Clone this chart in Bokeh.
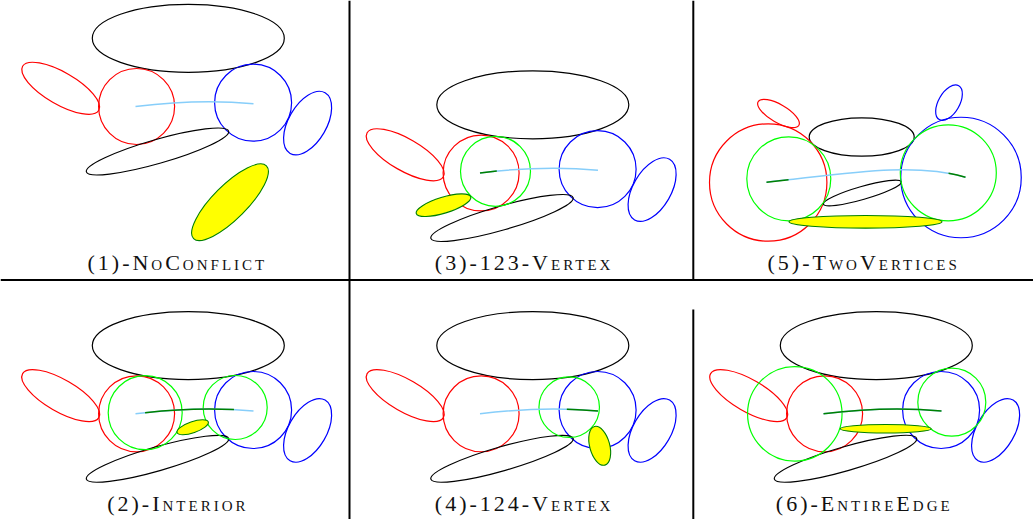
import numpy as np
from bokeh.plotting import figure
from bokeh.models import Range1d
from bokeh.embed import file_html
from bokeh.resources import INLINE
from bokeh.core.properties import value

# ---------------- data (image pixel coordinates: x to the right, y downwards) -------------
labels = ["(1)-NoConflict", "(2)-Interior", "(3)-123-Vertex",
          "(4)-124-Vertex", "(5)-TwoVertices", "(6)-EntireEdge"]
label_left = [87.0, 106.7, 434.3, 434.3, 767.0, 775.3]
label_base = [262.0, 503.0, 262.0, 503.0, 262.3, 503.0]

# shared base layout (given in panel (1) coordinates)
base_cx = [187.8, 60.2, 136.1, 252.6, 307.1, 157.0]
base_cy = [37.8, 87.8, 106.0, 102.2, 122.6, 151.0]
base_w = [192.0, 88.0, 76.0, 77.0, 70.0, 148.0]
base_h = [68.0, 32.0, 76.0, 77.0, 38.0, 24.0]
base_angle = [0, -30, 0, 0, 60, 16]
base_color = ["black", "red", "red", "blue", "blue", "black"]

# panels that reuse the base layout and their offsets
shared_panels = [1, 2, 3, 4, 6]
offset_x = [0.0, 0.0, 344.5, 344.5, 688.0]
offset_y = [0.0, 307.3, 66.5, 307.3, 307.3]

# panel (5) has its own, zoomed layout
p5_cx = [861.2, 778.0, 767.7, 960.5, 948.5, 861.8]
p5_cy = [136.5, 113.0, 182.0, 177.0, 102.2, 192.5]
p5_w = [105.0, 47.0, 117.4, 120.5, 39.0, 81.0]
p5_h = [38.4, 18.0, 117.4, 120.5, 21.0, 13.0]
p5_angle = [0, -30, 0, 0, 60, 16]
p5_color = ["black", "red", "red", "blue", "blue", "black"]

# green circles
green_cx = [144.7, 234.7, 495.0, 568.7, 788.3, 947.8, 794.3, 951.3]
green_cy = [412.2, 407.0, 170.8, 406.7, 178.3, 172.3, 413.3, 401.7]
green_d = [74.0, 64.0, 70.0, 60.5, 84.0, 96.0, 94.5, 68.0]

# yellow ellipses
yellow_cx = [229.5, 192.2, 443.0, 599.2, 865.0, 885.2]
yellow_cy = [201.7, 426.7, 204.7, 445.3, 221.3, 428.3]
yellow_w = [103.0, 33.0, 57.0, 40.0, 153.0, 91.0]
yellow_h = [34.0, 11.0, 16.0, 20.0, 12.7, 8.5]
yellow_angle = [45, 19, 17, -75, 0, 0]

# centre curves (cubic Bezier control points)
base_curve_x = [135.0, 175.0, 215.0, 253.0]
base_curve_y = [106.0, 101.0, 99.5, 103.3]
p5_curve_x = [766.0, 840.0, 910.0, 965.0]
p5_curve_y = [181.7, 174.0, 161.0, 176.7]

# green parts of the curves: panel, start and end parameter
seg_panel = [2, 3, 4, 5, 5, 6]
seg_t0 = [0.08, 0.0, 0.73, 0.0, 0.90, 0.0]
seg_t1 = [0.83, 0.14, 1.0, 0.10, 1.0, 1.0]

# frame lines between panels
div_x0 = [0.0, 349.0, 692.8, 692.8]
div_y0 = [279.5, 0.0, 0.0, 309.0]
div_x1 = [1033.0, 349.0, 692.8, 692.8]
div_y1 = [279.5, 519.0, 279.5, 519.0]

# ---------------- helpers -------------
def Y(v):
    return [-float(t) for t in v]

def blossom(P, u, v, w):
    q = [(1 - u) * P[i] + u * P[i + 1] for i in range(3)]
    r = [(1 - v) * q[i] + v * q[i + 1] for i in range(2)]
    return (1 - w) * r[0] + w * r[1]

def sub_bezier(P, t0, t1):
    return [blossom(P, t0, t0, t0), blossom(P, t0, t0, t1),
            blossom(P, t0, t1, t1), blossom(P, t1, t1, t1)]

# ---------------- figure -------------
p = figure(width=1033, height=519, x_range=Range1d(0, 1033), y_range=Range1d(-519, 0),
           toolbar_location=None, output_backend="svg", min_border=0)
p.xaxis.visible = False
p.yaxis.visible = False
p.grid.visible = False
p.outline_line_color = None
p.background_fill_color = "white"
p.styles = {"font-variant": "small-caps", "letter-spacing": "3px"}

# dividers
p.segment(div_x0, Y(div_y0), div_x1, Y(div_y1), line_color="black", line_width=2)

# base ellipses
ex, ey, ew, eh, ea, ec = [], [], [], [], [], []
for k, pan in enumerate(shared_panels):
    for i in range(len(base_cx)):
        ex.append(base_cx[i] + offset_x[k]); ey.append(base_cy[i] + offset_y[k])
        ew.append(base_w[i]); eh.append(base_h[i]); ea.append(base_angle[i]); ec.append(base_color[i])
ex += p5_cx; ey += p5_cy; ew += p5_w; eh += p5_h; ea += p5_angle; ec += p5_color
p.ellipse(x=ex, y=Y(ey), width=ew, height=eh, angle=ea, angle_units="deg",
          fill_color=None, line_color=ec, line_width=1.2)

# green circles
p.ellipse(x=green_cx, y=Y(green_cy), width=green_d, height=green_d,
          fill_color=None, line_color="#00ff00", line_width=1.2)

# yellow ellipses
p.ellipse(x=yellow_cx, y=Y(yellow_cy), width=yellow_w, height=yellow_h, angle=yellow_angle,
          angle_units="deg", fill_color="#ffff00", line_color="#008000", line_width=1.1)

# light blue curves
curves = {}
for k, pan in enumerate(shared_panels):
    curves[pan] = ([x + offset_x[k] for x in base_curve_x], [y + offset_y[k] for y in base_curve_y])
curves[5] = (p5_curve_x, p5_curve_y)
bx = [curves[k] for k in sorted(curves)]
p.bezier(x0=[c[0][0] for c in bx], y0=Y([c[1][0] for c in bx]),
         x1=[c[0][3] for c in bx], y1=Y([c[1][3] for c in bx]),
         cx0=[c[0][1] for c in bx], cy0=Y([c[1][1] for c in bx]),
         cx1=[c[0][2] for c in bx], cy1=Y([c[1][2] for c in bx]),
         line_color="#87cefa", line_width=1.5)

# green parts of the curves
gx = {"x0": [], "y0": [], "x1": [], "y1": [], "cx0": [], "cy0": [], "cx1": [], "cy1": []}
for pan, t0, t1 in zip(seg_panel, seg_t0, seg_t1):
    cx, cy = curves[pan]
    sx = sub_bezier(cx, t0, t1); sy = sub_bezier(cy, t0, t1)
    gx["x0"].append(sx[0]); gx["y0"].append(-sy[0])
    gx["cx0"].append(sx[1]); gx["cy0"].append(-sy[1])
    gx["cx1"].append(sx[2]); gx["cy1"].append(-sy[2])
    gx["x1"].append(sx[3]); gx["y1"].append(-sy[3])
p.bezier(line_color="#008000", line_width=1.5, **gx)

# labels
p.text(x=label_left, y=Y(label_base), text=labels, text_font=value("Liberation Serif"),
       text_font_size="22px", text_align="left", text_baseline="alphabetic", text_color="#111111")

open("out.html", "w").write(file_html(p, INLINE))
